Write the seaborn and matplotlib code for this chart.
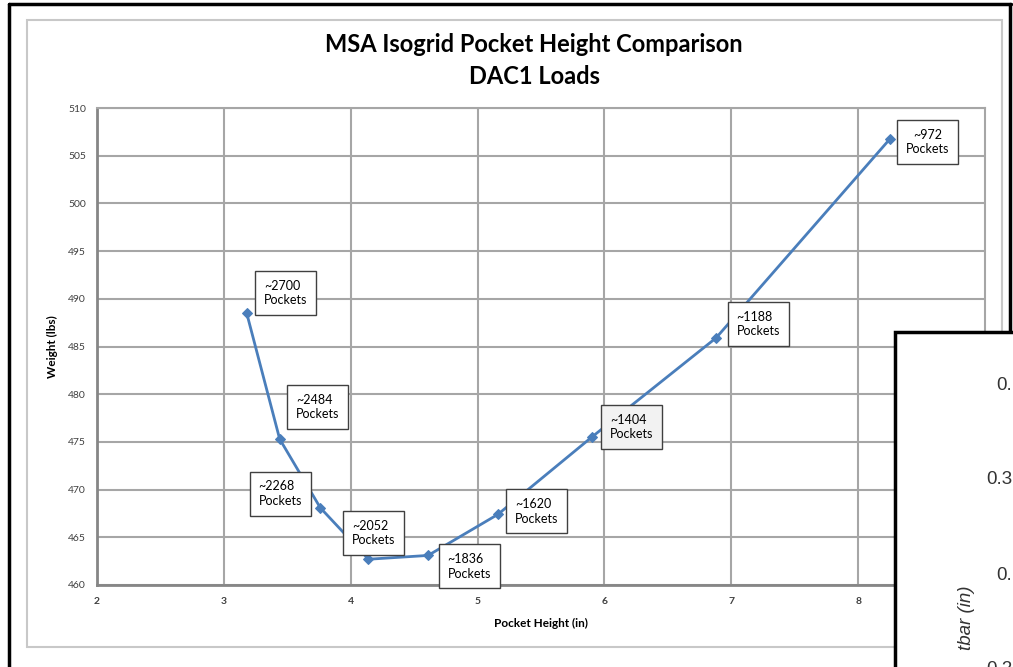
import matplotlib as mpl
import matplotlib.pyplot as plt
from matplotlib.patches import Rectangle
from matplotlib.lines import Line2D
from matplotlib.ticker import MultipleLocator
import seaborn as sns


pocket_height = [3.18, 3.44, 3.76, 4.14, 4.61, 5.16, 5.90, 6.88, 8.25]
weight = [488.5, 475.3, 468.1, 462.7, 463.1, 467.4, 475.5, 485.9, 506.75]
pocket_count = ["~2700", "~2484", "~2268", "~2052", "~1836", "~1620", "~1404", "~1188", "~972"]
# only the visible part of the overlapping picture's tick labels
inset_ticks = ["0.", "0.3", "0.", "0.2"]

W, H = 1013, 667

sns.set_style("white")
mpl.rcParams.update({"font.family": ["Lato", "DejaVu Sans"]})

LINE = "#4a7ebb"
GRID = "#a6a6a6"
TEXT = "#404040"


def fx(px):
    return px / W


def fy(py):
    return 1 - py / H


fig = plt.figure(figsize=(W / 100, H / 100), dpi=100)
fig.patch.set_facecolor("white")

# chart area frame (excel) and screenshot border
fig.add_artist(Rectangle((fx(27), fy(647)), fx(1002) - fx(27), fy(20) - fy(647),
                         transform=fig.transFigure, fill=False, edgecolor="#c8c8c8", lw=1.5))
fig.add_artist(Line2D([fx(9), fx(1011)], [fy(4), fy(4)], transform=fig.transFigure, color="black", lw=2.5))
fig.add_artist(Line2D([fx(9), fx(9)], [fy(4), fy(667)], transform=fig.transFigure, color="black", lw=2.5))
fig.add_artist(Line2D([fx(1010), fx(1010)], [fy(4), fy(332)], transform=fig.transFigure, color="black", lw=2.5))

ax = fig.add_axes([fx(97), fy(585), fx(985) - fx(97), fy(108) - fy(585)])

sns.lineplot(x=pocket_height, y=weight, sort=False, color=LINE, lw=2.0,
             marker="D", markersize=5, markeredgecolor=LINE, ax=ax, zorder=3)

ax.set_xlim(2, 9)
ax.set_ylim(460, 510)
ax.xaxis.set_major_locator(MultipleLocator(1))
ax.xaxis.set_minor_locator(MultipleLocator(0.2))
ax.yaxis.set_major_locator(MultipleLocator(5))
ax.yaxis.set_minor_locator(MultipleLocator(1))
ax.set_xticks([2, 3, 4, 5, 6, 7, 8])
ax.grid(True, which="major", color=GRID, lw=1.5)
ax.tick_params(which="both", direction="inout", color="#868686", width=1.2)
ax.tick_params(which="major", length=6, pad=6)
ax.tick_params(which="minor", length=5)
ax.tick_params(axis="x", labelsize=7.5, labelcolor=TEXT)
ax.tick_params(axis="y", labelsize=7.5, labelcolor=TEXT, pad=5)
for lab in ax.get_xticklabels():
    lab.set_fontweight("bold")
for side in ["left", "bottom"]:
    ax.spines[side].set_color("#868686")
    ax.spines[side].set_linewidth(2)
for side in ["top", "right"]:
    ax.spines[side].set_color(GRID)
    ax.spines[side].set_linewidth(1.5)

ax.set_xlabel("Pocket Height (in)", fontsize=8.5, fontweight="bold", color="black", labelpad=8)
ax.set_ylabel("Weight (lbs)", fontsize=8.5, fontweight="bold", color="black", labelpad=7)

fig.text(fx(534), fy(45), "MSA Isogrid Pocket Height Comparison", ha="center", va="center",
         fontsize=17, fontweight="bold", color="black")
fig.text(fx(534), fy(76), "DAC1 Loads", ha="center", va="center",
         fontsize=17, fontweight="bold", color="black")

# label box offsets in pixels from each point
offsets = [(39, 20), (38, 32), (-40, 14), (5, 26), (41, -11), (39, 3), (40, 10), (42, 14), (38, -3)]
for i, (x, y, n) in enumerate(zip(pocket_height, weight, pocket_count)):
    face = "#f2f2f2" if n == "~1404" else "white"
    align = "center" if n == "~972" else "left"
    ax.annotate(f"{n}\nPockets", xy=(x, y), xytext=offsets[i], textcoords="offset pixels",
                ha="center", va="center", multialignment=align, fontsize=9, color="black",
                linespacing=1.25, zorder=5,
                bbox=dict(boxstyle="square,pad=0.7", facecolor=face, edgecolor="#404040", lw=1))

# overlapping screenshot in the corner
fig.add_artist(Rectangle((fx(895), fy(680)), fx(1030) - fx(895), fy(332) - fy(680),
                         transform=fig.transFigure, facecolor="white", edgecolor="black",
                         lw=2.5, zorder=10))
for k, t in enumerate(inset_ticks):
    fig.text(fx(1012), fy(385 + 95 * k), t, ha="right", va="center", fontsize=13.5,
             color="#333333", family="Liberation Sans", zorder=11)
fig.text(fx(966), fy(618), "tbar (in)", ha="center", va="center", rotation=90, fontsize=13.5,
         fontstyle="italic", color="#333333", family="Liberation Sans", zorder=11)

fig.savefig("out.png", dpi=100)
